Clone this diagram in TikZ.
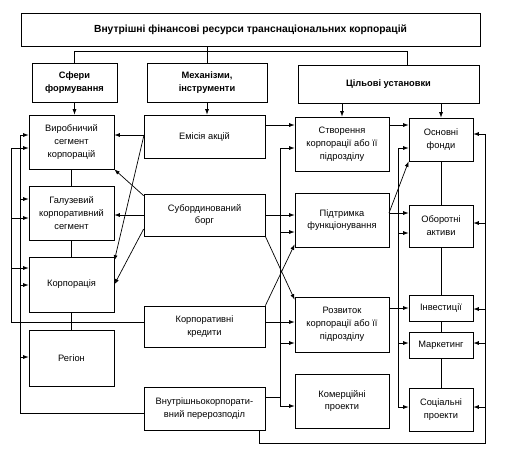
\documentclass[tikz,border=0pt]{standalone}
\usepackage{fontspec}
\setmainfont{Liberation Sans}
\usetikzlibrary{arrows.meta}

\begin{document}
\begin{tikzpicture}[x=1pt, y=-1pt,
  box/.style={draw, line width=0.7pt, align=center, inner sep=1pt,
    font=\fontsize{9.3}{12.8}\selectfont},
  head/.style={box, font=\fontsize{9.3}{12.8}\selectfont\bfseries},
  link/.style={line width=0.7pt},
  feed/.style={link, -{Latex[length=5.5pt,width=4pt]}}]
\useasboundingbox (0,0) rectangle (511,451);

% headline and headers
\node[head, minimum width=459pt, minimum height=33pt, font=\fontsize{10.3}{13}\selectfont\bfseries] (titleTNK) at (250.5,29.5) {Внутрішні фінансові ресурси транснаціональних корпорацій};
\node[head, minimum width=85pt, minimum height=39pt] (headSF) at (74.5,82.5) {Сфери\\формування};
\node[head, minimum width=120pt, minimum height=39pt] (headMI) at (207,82.5) {Механізми,\\інструменти};
\node[head, minimum width=181pt, minimum height=38pt] (headCU) at (388.5,84) {Цільові установки};

% spheres
\node[box, minimum width=85pt, minimum height=54pt] (sfVYR) at (71.5,142) {Виробничий\\сегмент\\корпорацій};
\node[box, minimum width=85pt, minimum height=54pt] (sfGAL) at (71.5,213) {Галузевий\\корпоративний\\сегмент};
\node[box, minimum width=85pt, minimum height=55pt] (sfKORP) at (71.5,284.5) {Корпорація};
\node[box, minimum width=85pt, minimum height=56pt] (sfREG) at (71.5,358) {Регіон};

% mechanisms
\node[box, minimum width=121pt, minimum height=43pt] (miEMIS) at (204.5,136.5) {Емісія акцій};
\node[box, minimum width=121pt, minimum height=42pt] (miSUB) at (204.5,215) {Субординований\\борг};
\node[box, minimum width=121pt, minimum height=41pt] (miKRED) at (204.5,326.5) {Корпоративні\\кредити};
\node[box, minimum width=121pt, minimum height=43pt] (miVNUT) at (204.5,408.5) {Внутрішньокорпорати-\\вний перерозподіл};

% goals
\node[box, minimum width=94pt, minimum height=54pt] (cuSTV) at (342,144) {Створення\\корпорації або її\\підрозділу};
\node[box, minimum width=94pt, minimum height=54pt] (cuPIDT) at (342,220) {Підтримка\\функціонування};
\node[box, minimum width=94pt, minimum height=55pt] (cuROZV) at (342,324.5) {Розвиток\\корпорації або її\\підрозділу};
\node[box, minimum width=94pt, minimum height=54pt] (cuKOM) at (342,401) {Комерційні\\проекти};

\node[box, minimum width=64pt, minimum height=43pt] (fnOSN) at (441,139.5) {Основні\\фонди};
\node[box, minimum width=64pt, minimum height=42pt] (fnOBOR) at (441,226) {Оборотні\\активи};
\node[box, minimum width=64pt, minimum height=26pt] (fnINV) at (441,308) {Інвестиції};
\node[box, minimum width=64pt, minimum height=26pt] (fnMARK) at (441,345) {Маркетинг};
\node[box, minimum width=64pt, minimum height=43pt] (fnSOC) at (441,409.5) {Соціальні\\проекти};

% tree
\draw[link] (titleTNK.south -| headMI.north) -- (headMI.north);
\draw[link] (headSF.north) -- ++(0,-11) -| ([xshift=18.5pt]headCU.north);
\draw[feed] (headSF.south) -- (headSF.south |- sfVYR.north);
\draw[feed] (headMI.south) -- (headMI.south |- miEMIS.north);
\draw[feed] (cuSTV.north |- headCU.south) -- (cuSTV.north);
\draw[feed] (fnOSN.north |- headCU.south) -- (fnOSN.north);

\foreach \a/\nm in {sfVYR/sfGAL, sfGAL/sfKORP, sfKORP/sfREG, fnOSN/fnOBOR, fnOBOR/fnINV, fnINV/fnMARK, fnMARK/fnSOC}
  \draw[link] (\a.south) -- (\nm.north);

% mechanisms to spheres
\coordinate (emisL) at (144,135);
\draw[feed] (emisL) -- (emisL -| sfVYR.east);
\draw[feed] (emisL) -- ([yshift=-4pt]sfKORP.north east);
\draw[feed] ([yshift=-2pt]miSUB.north west) -- (sfVYR.south east);
\draw[feed] (miSUB.west) -- (miSUB.west -| sfGAL.east);
\draw[feed] ([yshift=-14pt]miSUB.west) -- (sfKORP.east);

\coordinate (loVYR) at (11,148);
\coordinate (loGAL) at (11,218);
\coordinate (loKORP) at (11,268);
\coordinate (loKRED) at (11,322);
\draw[link] (loKRED -| miKRED.west) -- (loKRED) -- (loVYR);
\foreach \nm in {VYR,GAL,KORP}
  \draw[feed] (lo\nm) -- (lo\nm -| sf\nm.west);

\coordinate (liVYR) at (20,135);
\coordinate (liGAL) at (20,199);
\coordinate (liKORP) at (20,285);
\coordinate (liREG) at (20,357);
\coordinate (liVNUT) at (20,413);
\draw[link] (liVNUT -| miVNUT.west) -- (liVNUT) -- (liVYR);
\foreach \nm in {VYR,GAL,KORP,REG}
  \draw[feed] (li\nm) -- (li\nm -| sf\nm.west);

% mechanisms to goals
\coordinate (emisR) at (265,125);
\draw[feed] (emisR) -- (emisR -| cuSTV.west);
\draw[feed] (miSUB.east) -- (miSUB.east -| cuPIDT.west);
\draw[feed] (miSUB.south east) -- ([yshift=-3pt]cuROZV.north west);
\draw[feed] (miKRED.north east) -- ([yshift=3pt]cuPIDT.south west);
\coordinate (kredR) at (265,322);
\draw[feed] (kredR) -- (kredR -| cuROZV.west);

\coordinate (mcSTV) at (280,148);
\coordinate (mcPIDT) at (280,232);
\coordinate (mcROZV) at (280,343);
\coordinate (mcKOM) at (280,406);
\coordinate (mcVNUT) at (280,397);
\draw[link] (mcVNUT -| miVNUT.east) -- (mcVNUT);
\draw[link] (mcSTV) -- (mcKOM);
\foreach \nm in {STV,PIDT,ROZV,KOM}
  \draw[feed] (mc\nm) -- (mc\nm -| cu\nm.west);

% goals to funds
\coordinate (stvR) at (389,125);
\draw[feed] (stvR) -- (stvR -| fnOSN.west);
\coordinate (pidtR) at (389,213);
\draw[feed] (pidtR) -- (pidtR -| fnOBOR.west);
\draw[feed] (pidtR) -- (fnOSN.south west);
\draw[feed] (cuROZV.east |- fnINV.west) -- (fnINV.west);

\coordinate (cfOSN) at (398,148);
\coordinate (cfOBOR) at (398,233);
\coordinate (cfMARK) at (398,343);
\coordinate (cfSOC) at (398,407);
\draw[link] (cfOSN) -- (cfSOC);
\foreach \nm in {OSN,OBOR,MARK,SOC}
  \draw[feed] (cf\nm) -- (cf\nm -| fn\nm.west);

\coordinate (rrOSN) at (485,134);
\coordinate (rrOBOR) at (485,223);
\coordinate (rrINV) at (485,309);
\coordinate (rrMARK) at (485,343);
\coordinate (rrSOC) at (485,407);
\coordinate (rrBOT) at (485,443);
\coordinate (vnutDN) at (259,443);
\draw[link] (vnutDN |- miVNUT.south) -- (vnutDN) -- (rrBOT) -- (rrOSN);
\foreach \nm in {OSN,OBOR,INV,MARK,SOC}
  \draw[feed] (rr\nm) -- (rr\nm -| fn\nm.east);
\end{tikzpicture}
\end{document}
